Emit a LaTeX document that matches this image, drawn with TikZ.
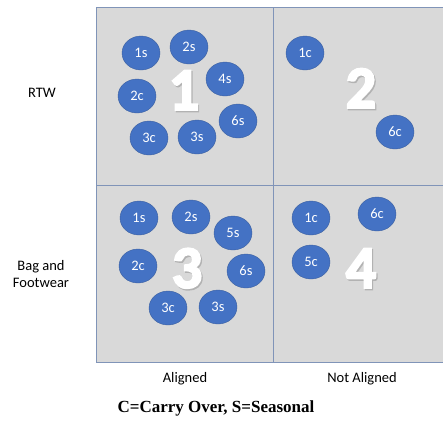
\documentclass[tikz,border=0pt]{standalone}
\usepackage{fontspec}
\setmainfont{Carlito}
\newfontfamily\numfont{Carlito}[FakeBold=3.5]
\newfontfamily\capfont{Liberation Serif}
\usetikzlibrary{positioning,shapes.geometric}

\definecolor{cellgray}{RGB}{217,217,217}
\definecolor{gridline}{RGB}{128,148,184}
\definecolor{dotblue}{RGB}{68,114,196}
\definecolor{dotedge}{RGB}{60,96,160}

\tikzset{
  item/.style={ellipse,draw=dotedge,line width=.4pt,fill=dotblue,text=white,
    minimum width=38pt,minimum height=34pt,inner sep=0pt,font=\fontsize{14.5}{14.5}\selectfont},
  bignum/.style={text=white,font=\numfont\bfseries\fontsize{60}{60}\selectfont},
  axislab/.style={font=\fontsize{14.5}{17}\selectfont,align=center}
}
\newcommand{\shadednum}[1]{\makebox[0pt][l]{\raisebox{-1.5pt}{\hspace{1.2pt}\color{black!30}#1}}#1}

\begin{document}
\begin{tikzpicture}[x=1pt,y=-1pt]
  \useasboundingbox (0,0) rectangle (443,432);
  % quadrants
  \fill[cellgray] (96,7) rectangle (443,362);
  \draw[gridline,line width=1pt] (443,7) -- (96,7) -- (96,362) -- (443,362);
  \draw[gridline,line width=1pt] (273,7) -- (273,362);
  \draw[gridline,line width=1pt] (96,185) -- (443,185);
  % big quadrant numbers
  \node[bignum] (n1) at (184,91) {\shadednum{1}};
  \node[bignum] (n2) at (361,89) {\shadednum{2}};
  \node[bignum] (n3) at (187,269) {\shadednum{3}};
  \node[bignum] (n4) at (361,269) {\shadednum{4}};
  % items, quadrant 1
  \foreach \x/\y/\lab in {141/53/1s,189/47/2s,225/79/4s,137/96/2c,238/121/6s,149/138/3c,197/137/3s}
    \node[item] (a\lab) at (\x,\y) {\lab};
  % quadrant 2
  \foreach \x/\y/\lab in {305/53/1c,395/132/6c}
    \node[item] (b\lab) at (\x,\y) {\lab};
  % quadrant 3
  \foreach \x/\y/\lab in {139/218/1s,191/217/2s,233/233/5s,138/266/2c,246/271/6s,168/308/3c,218/307/3s}
    \node[item] (c\lab) at (\x,\y) {\lab};
  % quadrant 4
  \foreach \x/\y/\lab in {311/218/1c,377/214/6c,311/262/5c}
    \node[item] (d\lab) at (\x,\y) {\lab};
  % axis labels
  \node[axislab] (rtw) at (42,93) {RTW};
  \node[axislab] (bag) at (41,274) {Bag and\\Footwear};
  \node[axislab] (al) at (185,379) {Aligned};
  \node[axislab] (nal) at (362,379) {Not Aligned};
  \node[font=\capfont\bfseries\fontsize{17}{17}\selectfont] (key) at (216,408) {C=Carry Over, S=Seasonal};
\end{tikzpicture}
\end{document}
